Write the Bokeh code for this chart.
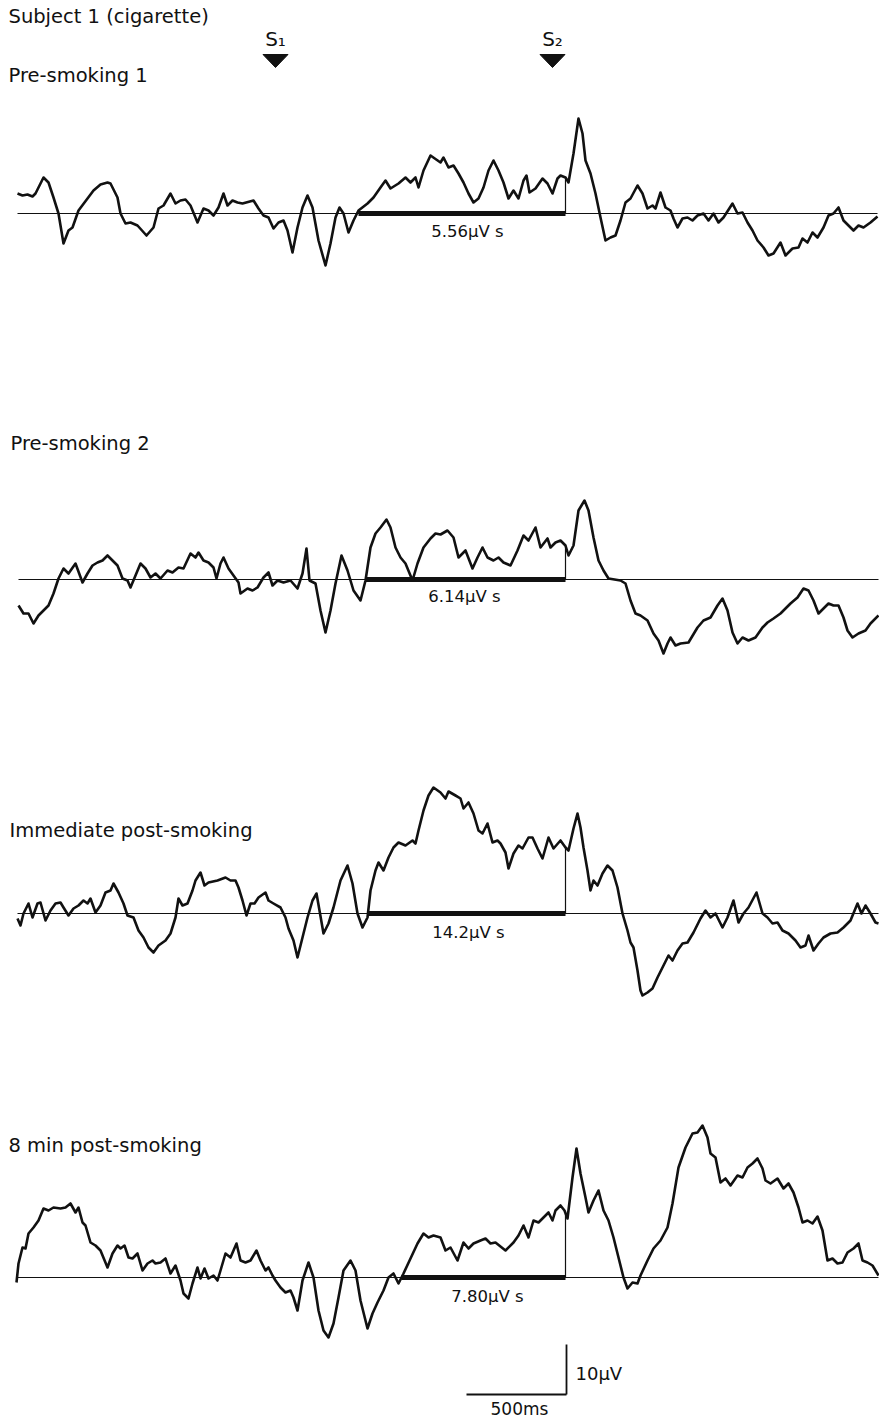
import numpy as np
from bokeh.plotting import figure
from bokeh.models import Range1d
from bokeh.core.properties import value
from bokeh.embed import file_html
from bokeh.resources import INLINE

# ---------------- data (time in ms, amplitude in µV) ----------------
pre1 = [(5,4.0),(30,3.6),(55,3.8),(80,3.4),(95,4.0),(135,7.2),(160,6.2),(185,3.2),(210,0),(235,-6.0),(260,-3.4),(280,-2.8),(310,0.6),(355,3.0),(385,4.6),(420,5.8),(455,6.2),(470,6.0),(505,3.2),(520,0),(545,-2.0),(570,-1.8),(605,-2.4),(650,-4.4),(685,-2.8),(710,1.0),(735,1.6),(770,4.0),(795,2.0),(820,2.6),(845,2.8),(870,1.6),(905,-1.8),(935,1.0),(960,0.6),(985,-0.4),(1010,1.2),(1035,4.0),(1055,1.6),(1080,2.6),(1105,2.2),(1130,2.0),(1185,2.6),(1210,1.0),(1235,-0.4),(1260,-0.8),(1285,-3.0),(1310,-1.8),(1335,-1.4),(1355,-3.4),(1380,-7.8),(1405,-2.8),(1430,1.2),(1455,3.6),(1480,1.2),(1510,-5.4),(1545,-10.4),(1570,-6.0),(1595,-0.8),(1615,1.2),(1635,0),(1660,-3.8),(1685,-1.4),(1710,0.6),(1755,2.0),(1785,3.2),(1820,5.2),(1845,6.6),(1870,5.0),(1910,6.0),(1945,7.2),(1970,6.2),(1995,7.2),(2010,5.2),(2035,8.6),(2070,11.6),(2120,10.2),(2135,11.2),(2160,9.2),(2185,9.6),(2210,8.0),(2235,6.2),(2260,4.0),(2285,2.2),(2310,3.0),(2335,5.2),(2360,8.6),(2385,10.6),(2410,8.6),(2435,6.2),(2460,3.0),(2485,4.6),(2510,3.0),(2535,6.6),(2550,7.6),(2565,4.2),(2595,5.0),(2630,7.0),(2655,6.0),(2680,4.0),(2705,7.0),(2720,7.6),(2745,7.2),(2760,6.2),(2785,12.0),(2810,19.0),(2830,16.0),(2845,10.6),(2870,8.0),(2895,4.0),(2920,-0.8),(2945,-5.4),(2970,-4.8),(2995,-4.4),(3020,-1.4),(3045,2.2),(3070,3.0),(3105,5.6),(3130,4.0),(3155,1.0),(3180,1.6),(3195,1.0),(3220,4.2),(3245,1.2),(3270,0.6),(3285,-1.0),(3305,-2.8),(3330,-1.0),(3355,-0.8),(3380,-1.4),(3405,-0.4),(3435,0),(3460,-1.4),(3485,0),(3510,-1.8),(3535,-0.8),(3580,2.0),(3605,0),(3630,0.2),(3655,-1.8),(3680,-3.4),(3705,-5.4),(3735,-6.8),(3760,-8.4),(3785,-8.0),(3820,-5.8),(3845,-8.4),(3880,-7.0),(3910,-6.8),(3930,-5.0),(3955,-5.8),(3980,-3.8),(4005,-4.8),(4035,-2.8),(4060,-0.4),(4085,0),(4110,1.2),(4135,-1.4),(4160,-2.4),(4185,-3.4),(4210,-2.4),(4235,-2.8),(4270,-1.8),(4305,-0.6)]

pre2 = [(10,-5.2),(35,-6.8),(60,-6.8),(85,-8.8),(110,-7.2),(135,-6.2),(160,-5.2),(185,-2.8),(210,0.2),(235,2.2),(260,1.2),(295,3.2),(330,-0.6),(355,1.2),(380,2.8),(405,3.4),(430,3.8),(455,4.8),(480,3.8),(505,2.8),(530,0.2),(555,-0.2),(570,-1.6),(595,0.8),(620,3.2),(645,2.2),(670,0.4),(695,1.2),(720,0.2),(755,1.8),(780,1.4),(810,2.4),(835,2.2),(870,5.2),(895,4.4),(910,5.4),(935,3.8),(960,3.4),(985,2.4),(1000,0.2),(1020,3.2),(1035,4.4),(1060,2.2),(1085,0.8),(1110,-0.6),(1120,-2.8),(1155,-1.8),(1180,-2.2),(1205,-1.6),(1235,0.4),(1260,1.4),(1280,-1.2),(1305,-0.2),(1335,-0.6),(1370,-0.2),(1405,-1.8),(1430,1.2),(1450,6.2),(1465,-0.2),(1495,-0.8),(1520,-6.2),(1545,-10.6),(1570,-6.2),(1595,-0.8),(1625,4.8),(1655,1.8),(1685,-2.2),(1720,-4.2),(1745,-0.2),(1770,6.4),(1795,9.2),(1820,10.4),(1850,12.0),(1870,10.4),(1895,6.4),(1920,4.4),(1945,3.2),(1980,-0.2),(2005,3.2),(2035,6.4),(2070,8.2),(2095,9.2),(2120,9.0),(2155,9.8),(2185,8.4),(2210,4.4),(2245,5.8),(2280,2.2),(2305,4.4),(2330,6.4),(2355,4.4),(2385,3.8),(2410,4.4),(2435,3.4),(2470,2.8),(2505,5.8),(2535,8.8),(2560,7.8),(2595,10.4),(2620,6.4),(2655,8.2),(2670,6.4),(2695,7.4),(2720,7.8),(2745,6.8),(2760,4.8),(2785,6.8),(2810,13.8),(2840,15.8),(2860,13.8),(2885,8.4),(2910,3.8),(2935,1.8),(2960,0.2),(3020,-0.2),(3045,-0.8),(3070,-4.2),(3095,-6.8),(3120,-7.2),(3155,-8.2),(3185,-10.8),(3210,-12.2),(3235,-14.8),(3255,-12.8),(3270,-11.6),(3295,-13.2),(3320,-12.8),(3360,-12.6),(3405,-9.6),(3435,-8.2),(3470,-7.6),(3505,-5.2),(3530,-3.8),(3555,-6.2),(3580,-10.6),(3605,-12.8),(3630,-11.6),(3660,-12.2),(3695,-11.6),(3730,-9.6),(3755,-8.6),(3785,-7.8),(3820,-6.8),(3870,-4.8),(3905,-3.6),(3935,-1.8),(3960,-2.2),(3985,-4.2),(4010,-6.8),(4035,-5.8),(4060,-4.8),(4085,-5.2),(4110,-5.2),(4135,-7.6),(4155,-10.2),(4180,-11.6),(4210,-10.8),(4245,-10.2),(4270,-8.8),(4310,-7.2)]

post0 = [(5,-1.0),(20,-2.4),(35,0),(60,2.0),(80,-0.8),(105,2.0),(120,2.2),(145,-1.4),(170,0.6),(195,2.0),(220,2.2),(235,1.2),(260,-0.4),(285,1.0),(310,1.6),(335,2.6),(355,2.0),(370,3.0),(395,0.2),(420,1.6),(445,4.2),(470,4.6),(485,6.0),(510,4.2),(535,2.0),(555,-0.4),(585,-0.8),(610,-3.4),(635,-4.8),(660,-6.8),(685,-7.8),(710,-6.4),(745,-5.4),(770,-4.0),(795,-0.8),(810,3.0),(830,1.6),(855,2.0),(880,4.6),(895,6.6),(920,8.2),(940,5.6),(960,6.2),(1005,6.6),(1045,7.2),(1070,6.6),(1095,6.6),(1110,5.2),(1130,2.6),(1150,-0.4),(1170,2.0),(1190,2.0),(1210,3.2),(1245,4.2),(1260,2.6),(1285,2.0),(1320,1.2),(1345,-0.8),(1360,-3.0),(1385,-5.4),(1405,-8.8),(1430,-4.8),(1455,-0.8),(1480,2.6),(1500,4.0),(1515,0.6),(1535,-4.0),(1560,-2.0),(1585,1.2),(1620,6.6),(1655,9.6),(1680,6.0),(1705,0),(1730,-2.8),(1755,-0.8),(1770,4.6),(1795,8.6),(1810,10.2),(1835,8.6),(1860,11.2),(1885,13.2),(1910,14.2),(1945,13.6),(1980,14.6),(1995,14.0),(2010,16.6),(2035,20.6),(2060,23.6),(2085,25.2),(2120,24.2),(2145,23.0),(2160,24.4),(2195,23.6),(2220,23.0),(2235,21.0),(2260,22.2),(2285,20.0),(2310,16.6),(2330,16.0),(2355,18.0),(2380,14.2),(2405,14.6),(2420,14.0),(2445,12.2),(2460,9.0),(2485,12.0),(2510,13.6),(2530,13.0),(2560,15.2),(2580,15.2),(2605,13.0),(2630,11.0),(2660,15.2),(2685,13.0),(2720,14.6),(2745,13.2),(2760,12.6),(2785,17.0),(2805,20.0),(2820,17.2),(2835,13.2),(2855,8.6),(2870,4.6),(2885,6.6),(2905,5.6),(2930,8.0),(2955,9.6),(2980,8.6),(3005,5.2),(3030,0),(3055,-3.4),(3070,-5.8),(3085,-6.8),(3105,-11.4),(3120,-15.4),(3130,-16.4),(3155,-15.8),(3180,-15.0),(3205,-12.8),(3230,-10.8),(3260,-8.4),(3280,-9.4),(3305,-7.4),(3330,-6.0),(3355,-5.8),(3385,-3.8),(3420,-1.0),(3445,0.6),(3470,-0.8),(3495,0),(3530,-2.8),(3555,-0.8),(3585,2.6),(3610,-1.8),(3635,0),(3660,1.2),(3700,4.2),(3730,0),(3755,-0.8),(3780,-2.0),(3805,-1.8),(3830,-3.4),(3860,-4.0),(3895,-5.4),(3920,-6.8),(3945,-6.4),(3960,-4.4),(3985,-7.4),(4010,-6.0),(4035,-4.8),(4070,-4.0),(4105,-3.8),(4135,-2.8),(4170,-1.4),(4205,2.0),(4225,0),(4245,1.6),(4270,0),(4295,-1.8),(4310,-2.0)]

post8 = [(0,-1.0),(10,2.8),(30,6.0),(45,5.8),(60,8.8),(85,10.0),(110,11.4),(135,13.8),(160,13.4),(185,14.0),(220,13.8),(245,14.0),(270,14.8),(295,13.0),(310,14.0),(330,11.0),(345,10.4),(370,7.0),(395,6.4),(420,5.4),(455,2.0),(480,4.8),(505,6.4),(520,5.8),(540,6.4),(560,4.0),(580,3.8),(605,4.8),(630,1.4),(655,2.8),(680,3.4),(695,2.8),(720,3.0),(745,3.8),(770,0.8),(795,2.4),(820,-0.6),(835,-3.2),(860,-4.2),(880,-1.2),(905,2.0),(920,-0.2),(940,1.8),(960,-0.2),(985,0.4),(1005,-0.6),(1020,1.4),(1045,4.8),(1070,4.0),(1100,6.8),(1120,3.4),(1145,3.0),(1170,3.4),(1200,5.4),(1220,3.4),(1245,1.4),(1260,2.0),(1280,0.4),(1295,-0.6),(1320,-2.0),(1345,-3.0),(1370,-2.6),(1385,-4.0),(1405,-6.6),(1430,-0.6),(1460,3.0),(1485,0),(1510,-6.6),(1535,-10.6),(1560,-12.0),(1585,-9.2),(1610,-4.0),(1635,1.4),(1670,3.4),(1695,1.4),(1720,-4.6),(1755,-10.2),(1780,-7.2),(1805,-5.0),(1835,-2.6),(1860,0),(1885,0.8),(1910,-1.2),(1935,0.8),(1970,3.8),(2005,6.8),(2035,8.8),(2060,8.0),(2085,8.4),(2120,8.0),(2145,5.4),(2170,6.0),(2205,3.4),(2235,7.0),(2260,5.8),(2285,6.8),(2320,7.4),(2345,7.8),(2370,6.8),(2395,7.0),(2445,5.4),(2485,7.0),(2510,8.4),(2535,10.4),(2560,8.0),(2585,11.4),(2610,11.0),(2635,12.0),(2660,13.0),(2680,11.4),(2695,13.4),(2720,14.4),(2740,13.4),(2755,11.8),(2780,20.0),(2800,25.8),(2820,20.8),(2845,16.0),(2860,13.0),(2885,15.4),(2910,17.4),(2935,13.4),(2960,11.4),(2985,8.0),(3010,4.0),(3035,0),(3055,-2.2),(3080,-1.0),(3105,-1.2),(3120,0.4),(3155,3.4),(3185,5.8),(3220,7.4),(3255,10.0),(3280,14.8),(3310,22.0),(3345,26.0),(3380,28.8),(3405,29.0),(3430,30.4),(3455,28.0),(3470,24.8),(3495,24.0),(3520,19.0),(3545,19.8),(3570,18.4),(3605,20.4),(3630,20.0),(3655,22.0),(3680,22.8),(3705,23.8),(3730,21.8),(3745,19.4),(3770,18.8),(3805,19.8),(3835,17.8),(3860,18.8),(3885,17.0),(3910,14.0),(3930,11.0),(3955,11.4),(3980,10.8),(4005,12.2),(4030,9.4),(4055,3.4),(4080,3.8),(4105,2.8),(4130,3.0),(4155,5.0),(4185,5.8),(4210,6.8),(4230,3.4),(4255,3.0),(4280,2.4),(4310,0.4)]

traces = [pre1, pre2, post0, post8]
conditions = ["Pre-smoking 1", "Pre-smoking 2", "Immediate post-smoking", "8 min post-smoking"]
area_labels = ["5.56\u00b5V s", "6.14\u00b5V s", "14.2\u00b5V s", "7.80\u00b5V s"]
window_start = [1710, 1745, 1755, 1925]   # ms, start of integration window
window_end = 2745                          # ms, integration ends at S2 response
stim_times = [1295, 2680]                  # ms
stim_labels = ["S\u2081", "S\u2082"]
scale_ms = 500
scale_uv = 10

# ---------------- layout (reference-pixel helpers) ----------------
def X(px):
    return (px - 16) * 5.0

def Y(py):
    return -py / 5.0

W, H = 879, 1420
base_px = [213, 579, 913, 1277]
title_px = [(8, 75), (10, 443), (9, 830), (8, 1145)]
area_px = [(467, 231), (464, 596), (468, 932), (487, 1296)]

FONT = value("DejaVu Sans")
INK = "#111111"

p = figure(width=W, height=H,
           x_range=Range1d(X(0), X(W)), y_range=Range1d(Y(H), Y(0)),
           output_backend="svg", toolbar_location=None,
           x_axis_type=None, y_axis_type=None, min_border=0,
           outline_line_color=None, background_fill_color="white",
           border_fill_color="white")

for k, tr in enumerate(traces):
    t = np.array([a for a, b in tr], dtype=float)
    v = np.array([b for a, b in tr], dtype=float)
    off = Y(base_px[k])
    # zero line
    p.segment(x0=[t.min()], y0=[off], x1=[t.max()], y1=[off],
              line_color=INK, line_width=1.2)
    # integration window bar
    p.segment(x0=[window_start[k]], y0=[off], x1=[window_end], y1=[off],
              line_color=INK, line_width=5)
    # vertical at end of window up to trace
    v_end = float(np.interp(window_end, t, v))
    p.segment(x0=[window_end], y0=[off], x1=[window_end], y1=[off + v_end],
              line_color=INK, line_width=1.2)
    # trace
    p.line(t, v + off, line_color=INK, line_width=2.6, line_join="round")
    # condition title
    tx, ty = title_px[k]
    p.text(x=[X(tx)], y=[Y(ty)], text=[conditions[k]], text_font=FONT,
           text_font_size="19.5px", text_align="left",
           text_baseline="middle", text_color=INK)
    # area label
    ax, ay = area_px[k]
    p.text(x=[X(ax)], y=[Y(ay)], text=[area_labels[k]], text_font=FONT,
           text_font_size="16.5px", text_align="center",
           text_baseline="middle", text_color=INK)

# header
p.text(x=[X(8)], y=[Y(16)], text=["Subject 1 (cigarette)"], text_font=FONT,
       text_font_size="19.5px", text_align="left", text_baseline="middle",
       text_color=INK)

# stimulus markers
half_w = 62.5
tri_top, tri_tip = Y(54), Y(67)
xs = [[s - half_w, s + half_w, s] for s in stim_times]
ys = [[tri_top, tri_top, tri_tip] for s in stim_times]
p.patches(xs, ys, fill_color=INK, line_color=INK, line_width=1)
p.text(x=stim_times, y=[Y(38)] * 2, text=stim_labels, text_font=FONT,
       text_font_size="20px", text_align="center", text_baseline="middle",
       text_color=INK)

# scale bar
sx = X(566)
sy = Y(1394)
p.segment(x0=[sx - scale_ms, sx], y0=[sy, sy], x1=[sx, sx], y1=[sy, sy + scale_uv],
          line_color=INK, line_width=1.8)
p.text(x=[X(575)], y=[Y(1373)], text=["10\u00b5V"], text_font=FONT,
       text_font_size="18px", text_align="left", text_baseline="middle",
       text_color=INK)
p.text(x=[X(490)], y=[Y(1408)], text=["500ms"], text_font=FONT,
       text_font_size="17px", text_align="left", text_baseline="middle",
       text_color=INK)

open("out.html", "w").write(file_html(p, INLINE))
